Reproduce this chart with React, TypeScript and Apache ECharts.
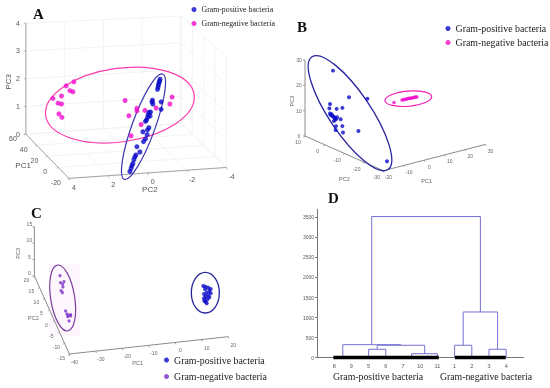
import React, { useEffect, useRef } from "react";
import * as echarts from "echarts";

const POS = "Gram-positive bacteria";
const NEG = "Gram-negative bacteria";
const SANS = "'Liberation Sans', Arial, sans-serif";
const SERIF = "'Liberation Serif', 'Times New Roman', serif";

// Panel A: projected (PC2, PC3)
const aPositive = [[-0.38,2.03],[-0.35,1.96],[-0.33,1.9],[-0.3,1.83],[-0.28,1.74],[-0.25,1.65],[0,1.24],[0.03,1.18],[-0.02,1.1],[-0.43,1.18],[-0.43,0.9],[0.1,0.8],[0.18,0.78],[0.22,0.69],[0.12,0.65],[0.25,0.59],[0.3,0.5],[0.35,0.45],[0.18,0.21],[0.25,0.13],[0.48,0.06],[0.27,-0.05],[0.35,-0.21],[0.45,-0.31],[0.78,-0.5],[0.63,-0.7],[0.83,-0.81],[0.88,-0.88],[0.93,-0.98],[0.98,-1.13],[1.03,-1.21],[1.07,-1.31],[1.13,-1.43]];
const aNegative = [[3.93,1.93],[4.32,1.78],[4.13,1.6],[3.98,1.56],[4.55,1.4],[4.98,1.31],[4.72,1.13],[4.55,1.1],[4.68,0.73],[4.53,0.6],[1.37,1.23],[0.78,0.94],[0.78,0.84],[1.18,0.66],[0.38,0.86],[-0.18,0.95],[-0.98,1.36],[-0.87,1.1],[0.57,0.33],[1.07,-0.09]];
// Panel B: projected (PC1, PC3)
const bPositive = [[-46,25.8],[-38,15.3],[-28.8,14.7],[-47.5,12.6],[-47.8,10.9],[-44.2,10.7],[-41.3,11.1],[-47.5,8.9],[-46.7,8.6],[-45.8,7.6],[-47.2,8.3],[-45,6.7],[-45.5,5.9],[-44.5,6.6],[-42.2,6.6],[-41.3,3.9],[-44.5,3.9],[-44.7,2.4],[-41,1.4],[-33.3,2],[-19,-10],[-45.3,7.4],[-44,7.4],[-46.3,7.9]];
const bNegative = [[-15.5,13.2],[-11.5,14.2],[-10.7,14.3],[-10,14.5],[-9.3,14.6],[-8.7,14.7],[-8,14.9],[-7.3,14.9],[-6.7,15],[-6,15.1],[-5.3,15.3],[-4.7,15.4],[-4,15.4]];
// Panel C: projected (PC1, PC3)
const cPositive = [[10.25,-3],[11.1,-3.2],[12.1,-3.5],[13,-3.9],[10.9,-4],[12.5,-4.5],[11.5,-5],[13,-5.2],[10.5,-5.4],[12.1,-5.8],[11.1,-6.2],[12.5,-6.4],[10.5,-6.7],[11.8,-7],[10.6,-7.4],[11.1,-7.7],[11.5,-8.2]];
const cNegative = [[-43.5,0.1],[-42,-1.7],[-43.3,-2],[-42.5,-2.5],[-42.4,-3.3],[-43.1,-4.4],[-42.6,-5],[-41.4,-10.5],[-40.9,-11.4],[-40.3,-11.8],[-39.5,-12],[-40.6,-12.2],[-40.1,-13.5],[-39.5,-11.6]];

// Confidence ellipses: centre u, centre v, radius along u, radius along v, tilt in degrees
const aEllipsePos = [0.45, 0.25, 2.8, 0.43, 70];
const aEllipseNeg = [1.63, 1.06, 3.75, 1.38, 8];
const bEllipsePos = [-37.5, 9, 34, 8.2, -56];
const bEllipseNeg = [-8.33, 14.74, 11.7, 3, 5];
const cEllipsePos = [11, -5, 5.25, 6.1, 0];
const cEllipseNeg = [-42.5, -6.6, 12.5, 3.6, -81];

// Axis ticks
const aPC1Ticks = [60, 40, 20, 0, -20];
const aPC2Ticks = [4, 2, 0, -2, -4];
const aPC3Ticks = [0, 1, 2, 3, 4];
const bPC1Ticks = [-20, -10, 0, 10, 20, 30];
const bPC2Ticks = [10, 0, -10, -20, -30];
const bPC3Ticks = [0, 10, 20, 30];
const cPC1Ticks = [-40, -30, -20, -10, 0, 10, 20];
const cPC2Ticks = [20, 15, 10, 5, 0, -5, -10, -15];
const cPC3Ticks = [0, 5, 10, 15];

// Panel D: dendrogram
const leafOrder = ["8", "9", "5", "6", "7", "10", "11", "1", "2", "3", "4"];
const distanceTicks = [0, 500, 1000, 1500, 2000, 2500, 3000, 3500];
// left x, right x, left foot, right foot, merge height
const dendrogramLinks = [
  [3.18, 9.5, 325, 1140, 3520],
  [8.5, 10.5, 310, 210, 1140],
  [8, 9, 0, 0, 310],
  [10, 11, 0, 0, 210],
  [1.5, 4.87, 0, 310, 325],
  [3.5, 6.26, 210, 100, 310],
  [3, 4, 0, 0, 210],
  [5.5, 7, 0, 0, 100],
];
const positiveLeaves = [[0.95, 0], [7.08, 0]];
const negativeLeaves = [[8.02, 0], [10.97, 0]];

type P = number[];
const lerp = (a: P, b: P, t: number) => [a[0] + (b[0] - a[0]) * t, a[1] + (b[1] - a[1]) * t];

function segSeries(g: number, segs: number[][], stroke: string, lineWidth: number, extra: any = {}) {
  return {
    type: "custom", coordinateSystem: "cartesian2d", xAxisIndex: g, yAxisIndex: g, silent: true, clip: false,
    data: segs,
    renderItem: (_: any, api: any) => {
      const a = api.coord([api.value(0), api.value(1)]);
      const b = api.coord([api.value(2), api.value(3)]);
      return {
        type: "line",
        shape: { x1: a[0], y1: a[1], x2: b[0] + (api.value(4) || 0), y2: b[1] + (api.value(5) || 0) },
        style: { stroke, lineWidth },
      };
    },
    ...extra,
  };
}

type Label = { at: P; off: P; text: string; rot?: number };
function textSeries(g: number, items: Label[], fontSize: number, fill: string) {
  return {
    type: "custom", coordinateSystem: "cartesian2d", xAxisIndex: g, yAxisIndex: g, silent: true, clip: false,
    data: items.map((i) => i.at),
    renderItem: (p: any, api: any) => {
      const it = items[p.dataIndex];
      const c = api.coord([api.value(0), api.value(1)]);
      return {
        type: "text", x: c[0] + it.off[0], y: c[1] + it.off[1], rotation: ((it.rot || 0) * Math.PI) / 180,
        style: { text: it.text, fontFamily: SANS, fontSize, fill, textAlign: "center", textVerticalAlign: "middle" },
      };
    },
  };
}

function ellipseSeries(g: number, e: number[], stroke: string, lineWidth: number) {
  return {
    type: "custom", coordinateSystem: "cartesian2d", xAxisIndex: g, yAxisIndex: g, silent: true, clip: false, z: 3,
    data: [e],
    renderItem: (_: any, api: any) => {
      const c = api.coord([api.value(0), api.value(1)]);
      const s = api.size([api.value(2), api.value(3)]);
      return {
        type: "ellipse", x: c[0], y: c[1], rotation: (api.value(4) * Math.PI) / 180,
        shape: { cx: 0, cy: 0, rx: s[0], ry: s[1] },
        style: { fill: "none", stroke, lineWidth },
      };
    },
  };
}

function scatter(g: number, name: string, data: number[][], color: string, symbolSize: number) {
  return { type: "scatter", name, xAxisIndex: g, yAxisIndex: g, data, symbolSize, z: 4, silent: true, itemStyle: { color } };
}

type Axis3 = { name: string; from: P; to: P; ticks: number[]; tick: P; off: P };
function axisSeries(g: number, axes: Axis3[], stroke: string, fontSize: number, fill: string) {
  const lines: number[][] = [];
  const marks: number[][] = [];
  const labels: Label[] = [];
  axes.forEach((ax) => {
    lines.push([...ax.from, ...ax.to, 0, 0]);
    ax.ticks.forEach((t, i) => {
      const p = lerp(ax.from, ax.to, i / (ax.ticks.length - 1));
      marks.push([...p, ...p, ax.tick[0], ax.tick[1]]);
      labels.push({ at: p, off: ax.off, text: String(t) });
    });
  });
  return [segSeries(g, lines, stroke, 1), segSeries(g, marks, stroke, 0.8), textSeries(g, labels, fontSize, fill)];
}

function wallLines(p00: P, p10: P, p01: P, p11: P, nx: number, ny: number) {
  const out: number[][] = [];
  for (let i = 0; i <= nx; i++) out.push([...lerp(p00, p10, i / nx), ...lerp(p01, p11, i / nx), 0, 0]);
  for (let j = 0; j <= ny; j++) out.push([...lerp(p00, p01, j / ny), ...lerp(p10, p11, j / ny), 0, 0]);
  return out;
}

const O = [6.33, -0.03], F = [4.18, -1.69], R = [-3.7, -1.28], K = [-1.42, 0.375];
const T = [6.33, 4.13], KT = [-1.42, 4.4], RT = [-3.7, 2.875];

function legend(left: number, top: number, itemGap: number, fontSize: number, colors: string[], size: number) {
  return {
    orient: "vertical", left, top, itemGap, itemWidth: size, itemHeight: size, padding: 0, selectedMode: false,
    textStyle: { fontFamily: SERIF, fontSize, color: "#222" },
    data: [
      { name: POS, icon: "circle", itemStyle: { color: colors[0] } },
      { name: NEG, icon: "circle", itemStyle: { color: colors[1] } },
    ],
  };
}

const letter = (text: string, left: number, top: number) => ({
  text, left, top, padding: 0,
  textStyle: { fontFamily: SERIF, fontSize: 15, fontWeight: "bold", color: "#111" },
});
const caption = (text: string, left: number, top: number) => ({
  text, left, top, padding: 0, textAlign: "center",
  textStyle: { fontFamily: SERIF, fontSize: 9.8, fontWeight: "normal", color: "#222" },
});

const hidden = { show: false };
const planeAxis = (g: number, min: number, max: number, inverse = false) => ({
  type: "value", gridIndex: g, min, max, inverse, axisLine: hidden, axisTick: hidden, axisLabel: hidden, splitLine: hidden,
});

const BLUE = "#0a0ac8", MAGENTA = "#f00ccc", PURPLE = "#7a32c8";

const option: any = {
  animation: false,
  backgroundColor: "#fff",
  title: [
    letter("A", 33, 6), letter("B", 297, 19), letter("C", 31, 205), letter("D", 328, 190),
    caption(POS, 378, 371), caption(NEG, 486, 371),
  ],
  legend: [
    legend(191.5, 5.5, 6, 7.8, [BLUE, MAGENTA], 5),
    legend(445.5, 23.5, 4, 9.9, [BLUE, MAGENTA], 5),
    legend(164, 355, 6.5, 9.9, [BLUE, PURPLE], 5),
  ],
  grid: [
    { left: 0, top: 0, width: 275, height: 190 },
    { left: 275, top: 0, width: 275, height: 190 },
    { left: 0, top: 190, width: 275, height: 198 },
    { left: 317, top: 209.3, width: 206.4, height: 148.4 },
  ],
  xAxis: [
    planeAxis(0, -6.125, 7.625, true),
    planeAxis(1, -75, 62.5),
    planeAxis(2, -66, 37.125),
    {
      type: "value", gridIndex: 3, min: 0, max: 12, splitLine: hidden,
      axisLine: { lineStyle: { color: "#777", width: 1 } },
      axisTick: hidden,
      axisLabel: {
        customValues: leafOrder.map((_, i) => i + 1), formatter: (v: number) => leafOrder[v - 1] ?? "",
        fontFamily: SANS, fontSize: 5.5, color: "#555", margin: 5,
      },
    },
  ],
  yAxis: [
    planeAxis(0, -2.125, 5),
    planeAxis(1, -21.316, 53.684),
    planeAxis(2, -33.6, 25.8),
    {
      type: "value", gridIndex: 3, min: 0, max: 3700, splitLine: hidden,
      axisLine: { lineStyle: { color: "#777", width: 1 } },
      axisTick: { length: 2, customValues: distanceTicks, lineStyle: { color: "#777" } },
      axisLabel: { customValues: distanceTicks, formatter: (v: number) => String(v), fontFamily: SANS, fontSize: 5, color: "#555", margin: 3 },
    },
  ],
  series: [
    // Panel A
    segSeries(0, [...wallLines(O, K, T, KT, 4, 4), ...wallLines(K, R, KT, RT, 4, 4), ...wallLines(O, K, F, R, 4, 4)], "#f0f0f0", 0.8),
    ...axisSeries(0, [
      { name: "PC1", from: O, to: F, ticks: aPC1Ticks, tick: [-1.5, 1], off: [-13, 4] },
      { name: "PC2", from: F, to: R, ticks: aPC2Ticks, tick: [1, 2], off: [5, 9] },
      { name: "PC3", from: O, to: T, ticks: aPC3Ticks, tick: [-2, 0], off: [-8, 0] },
    ], "#a4a4a4", 7, "#555"),
    textSeries(0, [
      { at: [7.18, 1.93], off: [0, 0], text: "PC3", rot: 90 },
      { at: [6.47, -1.19], off: [0, 0], text: "PC1" },
      { at: [0.13, -2.1], off: [0, 0], text: "PC2" },
    ], 8, "#555"),
    ellipseSeries(0, aEllipseNeg, "#fb3cb0", 1.2),
    ellipseSeries(0, aEllipsePos, "#3a34b0", 1.2),
    scatter(0, NEG, aNegative, MAGENTA, 5),
    scatter(0, POS, aPositive, BLUE, 5),
    // Panel B
    ...axisSeries(1, [
      { name: "PC2", from: [-60, 0], to: [-20.8, -13.7], ticks: bPC2Ticks, tick: [-1, 1.5], off: [-7, 6.5] },
      { name: "PC1", from: [-20.8, -13.7], to: [30.3, -3.3], ticks: bPC1Ticks, tick: [0.5, 1.5], off: [5, 6.5] },
      { name: "PC3", from: [-60, 0], to: [-60, 30], ticks: bPC3Ticks, tick: [-2, 0], off: [-6, 0] },
    ], "#8c8c8c", 5, "#666"),
    textSeries(1, [
      { at: [-66.7, 13.8], off: [0, 0], text: "PC3", rot: 90 },
      { at: [-40.3, -17], off: [0, 0], text: "PC2" },
      { at: [0.8, -17.6], off: [0, 0], text: "PC1" },
    ], 5.5, "#666"),
    ellipseSeries(1, bEllipsePos, "#28259f", 1.3),
    ellipseSeries(1, bEllipseNeg, "#f41cb4", 1.2),
    scatter(1, POS, bPositive, BLUE, 4),
    scatter(1, NEG, bNegative, MAGENTA, 3.5),
    // Panel C
    {
      type: "custom", coordinateSystem: "cartesian2d", xAxisIndex: 2, yAxisIndex: 2, silent: true, z: 1, data: [],
      renderItem: () => null,
      markArea: { silent: true, itemStyle: { color: "#fef6fd" }, data: [[{ coord: [-47.6, 3.6] }, { coord: [-36, -18] }]] },
    },
    ...axisSeries(2, [
      { name: "PC2", from: [-53.1, 0], to: [-40, -23.4], ticks: cPC2Ticks, tick: [-1, 1.5], off: [-8, 4] },
      { name: "PC1", from: [-40, -23.4], to: [19.6, -18.2], ticks: cPC1Ticks, tick: [0.5, 2], off: [5, 8] },
      { name: "PC3", from: [-53.1, 0], to: [-53.1, 14.8], ticks: cPC3Ticks, tick: [-2, 0], off: [-5, -3] },
    ], "#8c8c8c", 5, "#666"),
    textSeries(2, [
      { at: [-59.1, 6.8], off: [0, 0], text: "PC3", rot: 90 },
      { at: [-53.5, -12.5], off: [0, 0], text: "PC2" },
      { at: [-14.4, -26], off: [0, 0], text: "PC1" },
    ], 5.5, "#666"),
    ellipseSeries(2, cEllipsePos, "#28259f", 1.3),
    ellipseSeries(2, cEllipseNeg, "#7b3f9d", 1.2),
    scatter(2, POS, cPositive, BLUE, 4),
    scatter(2, NEG, cNegative, PURPLE, 3.2),
    // Panel D
    {
      type: "custom", coordinateSystem: "cartesian2d", xAxisIndex: 3, yAxisIndex: 3, silent: true,
      data: dendrogramLinks,
      renderItem: (_: any, api: any) => {
        const [xl, xr, fl, fr, h] = [0, 1, 2, 3, 4].map((i) => api.value(i));
        return {
          type: "polyline",
          shape: { points: [api.coord([xl, fl]), api.coord([xl, h]), api.coord([xr, h]), api.coord([xr, fr])] },
          style: { fill: "none", stroke: "#7472d6", lineWidth: 1 },
        };
      },
    },
    { type: "line", xAxisIndex: 3, yAxisIndex: 3, data: positiveLeaves, symbol: "none", silent: true, z: 5, lineStyle: { color: "#000", width: 3.7 } },
    { type: "line", xAxisIndex: 3, yAxisIndex: 3, data: negativeLeaves, symbol: "none", silent: true, z: 5, lineStyle: { color: "#000", width: 3.7 } },
  ],
};

export default function App() {
  const ref = useRef<HTMLDivElement>(null);
  useEffect(() => {
    const chart = echarts.init(ref.current!, undefined, { renderer: "svg" });
    chart.setOption(option);
    return () => chart.dispose();
  }, []);
  return <div ref={ref} style={{ position: "absolute", left: 0, top: 0, width: 550, height: 388, filter: "blur(0.35px)" }} />;
}
